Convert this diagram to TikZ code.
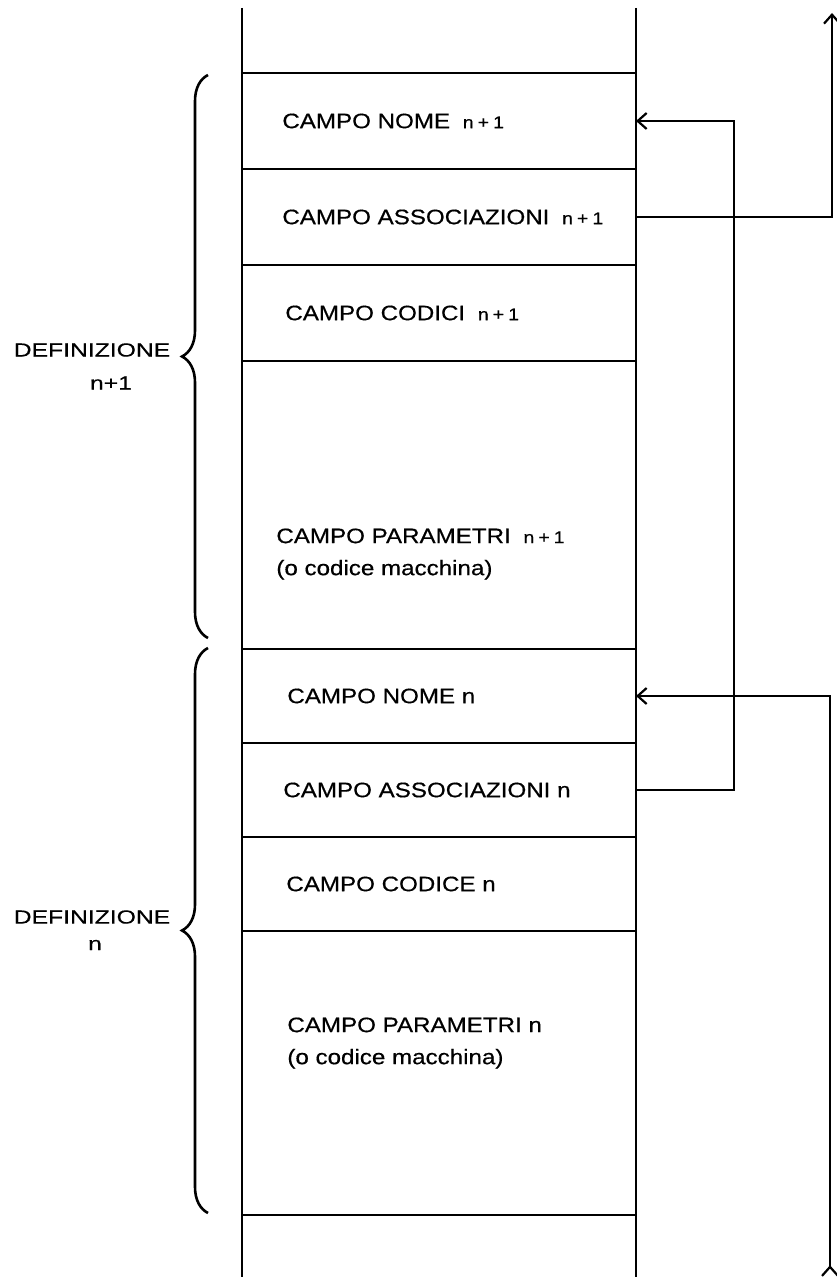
\documentclass[tikz,border=0pt]{standalone}
\usepackage{fontspec}
\setmainfont{Liberation Sans}[FakeStretch=1.15, FakeBold=0.5]
\newfontfamily\deffont{Liberation Sans}[FakeStretch=1.3, FakeBold=0.5]
\usetikzlibrary{arrows.meta, positioning, decorations.pathreplacing}

% small index after a field name
\newcommand{\idx}[1]{\hspace{3pt}{\fontsize{8.5}{9}\selectfont #1}}

\begin{document}
\begin{tikzpicture}[
    x=0.5pt, y=0.5pt,
    every node/.style={font=\fontsize{10.5}{16}\selectfont},
    field/.style={rectangle, draw, line width=1pt, minimum width=197pt, minimum height=48pt, outer sep=0pt, inner sep=0pt},
    fieldtext/.style={anchor=west, align=left, inner sep=0pt},
    deflabel/.style={font=\deffont\fontsize{9.5}{11}\selectfont, inner sep=0pt},
    link/.style={-{Straight Barb[length=4.5pt, width=8pt]}, line width=1.1pt},
    backlink/.style={{Straight Barb[reversed, length=4.5pt, width=8pt]}-{Straight Barb[length=4.5pt, width=8pt]}, line width=1.1pt},
    defbrace/.style={decorate, decoration={brace, amplitude=13pt}, line width=1.3pt}
]
\useasboundingbox (0,0) rectangle (836,-1277);

% Memory column
\draw[line width=1.2pt] (242,-8) -- (242,-1277);
\draw[line width=1.2pt] (636,-8) -- (636,-1277);

% ============ DEFINIZIONE n+1 ============
\node[field] (nome1) at (439,-121) {};
\node[field, below=0pt of nome1] (assoc1) {};
\node[field, below=0pt of assoc1] (codici1) {};
\node[field, minimum height=144pt, below=0pt of codici1] (param1) {};

\node[fieldtext, right=20pt of nome1.west] (tnome1) {CAMPO NOME \idx{n\hspace{2pt}+\hspace{2pt}1}};
\node[fieldtext, right=20pt of assoc1.west] (tassoc1) {CAMPO ASSOCIAZIONI \idx{n\hspace{2pt}+\hspace{2pt}1}};
\node[fieldtext, right=21.5pt of codici1.west] (tcodici1) {CAMPO CODICI \idx{n\hspace{2pt}+\hspace{2pt}1}};
\node[fieldtext, right=17pt of param1.west, yshift=-24.5pt] (tparam1) {CAMPO PARAMETRI \idx{n\hspace{2pt}+\hspace{2pt}1}\\(o codice macchina)};

% ============ DEFINIZIONE n ============
\node[field, minimum height=47pt, below=0pt of param1] (nome0) {};
\node[field, minimum height=47pt, below=0pt of nome0] (assoc0) {};
\node[field, minimum height=47pt, below=0pt of assoc0] (codice0) {};
\node[field, minimum height=142pt, below=0pt of codice0] (param0) {};

\node[fieldtext, right=22.5pt of nome0.west] (tnome0) {CAMPO NOME n};
\node[fieldtext, right=20.5pt of assoc0.west] (tassoc0) {CAMPO ASSOCIAZIONI n};
\node[fieldtext, right=22pt of codice0.west] (tcodice0) {CAMPO CODICE n};
\node[fieldtext, right=22.5pt of param0.west, yshift=15pt] (tparam0) {CAMPO PARAMETRI n\\(o codice macchina)};

% Braces and labels
\draw[defbrace] (208,-638) -- (208,-75);
\draw[defbrace] (208,-1213) -- (208,-648);
\node[deflabel] (def1) at (92,-350) {DEFINIZIONE};
\node[deflabel] (def1idx) at (111,-383) {n+1};
\node[deflabel] (def0) at (92,-917) {DEFINIZIONE};
\node[deflabel] (def0idx) at (95,-945) {n};

% Links between definitions
\coordinate (tonext) at (832,-13);
\coordinate (fromprev) at (830,-1277);
\draw[link] (assoc1.east) -| (tonext);
\draw[link] (assoc0.east) -- ++(98,0) |- (nome1.east);
\draw[backlink] (fromprev) |- (nome0.east);

\end{tikzpicture}
\end{document}
